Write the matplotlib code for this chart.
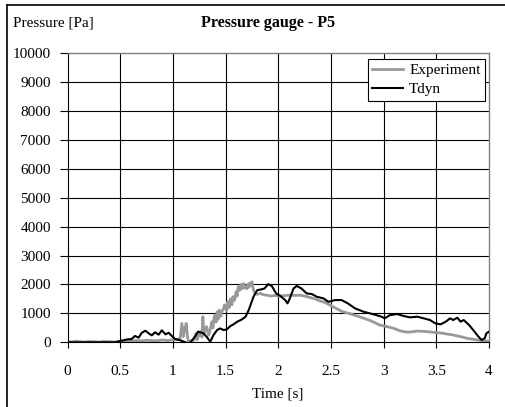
import numpy as np
import matplotlib
matplotlib.use('Agg')
import matplotlib.pyplot as plt
from matplotlib.lines import Line2D

plt.rcParams['font.family'] = 'Liberation Serif'

# -------------------------------- data ------------------------------------ #

# measured gauge signal (noisy, grey)
exp_t = [0.00, 0.04, 0.08, 0.12, 0.16, 0.20, 0.25, 0.30, 0.35, 0.40, 0.45,
         0.50, 0.55, 0.60, 0.65, 0.70, 0.75, 0.80, 0.85, 0.90, 0.95, 1.00,
         1.04, 1.07, 1.085, 1.10, 1.107, 1.115, 1.126, 1.14, 1.15, 1.18,
         1.20, 1.22, 1.23, 1.26, 1.275, 1.285, 1.295, 1.30, 1.32, 1.34,
         1.355, 1.37, 1.38, 1.39, 1.40, 1.41, 1.42, 1.43, 1.44, 1.455,
         1.465, 1.48, 1.49, 1.51, 1.52, 1.535, 1.545, 1.56, 1.57, 1.585,
         1.60, 1.61, 1.62, 1.635, 1.645, 1.655, 1.67, 1.68, 1.69, 1.70,
         1.71, 1.72, 1.73, 1.74, 1.75, 1.765, 1.78, 1.80, 1.83, 1.86, 1.89,
         1.93, 1.97, 2.00, 2.05, 2.11, 2.16, 2.20, 2.25, 2.30, 2.35, 2.39,
         2.44, 2.49, 2.55, 2.61, 2.67, 2.72, 2.77, 2.82, 2.86, 2.91, 2.96,
         3.01, 3.06, 3.10, 3.15, 3.22, 3.27, 3.32, 3.37, 3.41, 3.46, 3.50,
         3.55, 3.60, 3.65, 3.70, 3.75, 3.79, 3.84, 3.89, 3.94, 3.98, 4.00]
exp_p = [30, 10, 40, 20, 10, 30, 20, 10, 30, 20, 10,
         30, 50, 40, 60, 50, 70, 60, 50, 80, 60, 90,
         100, 150, 655, 200, 500, 370, 655, 150, 20, 60,
         80, 310, 90, 370, 180, 885, 250, 370, 540, 250,
         450, 710, 500, 820, 940, 700, 1050, 800, 1115, 900,
         1060, 1150, 1290, 1100, 1400, 1200, 1500, 1300, 1575, 1450,
         1750, 1600, 1920, 1800, 2000, 1850, 2030, 1880, 1940, 1850,
         2000, 1900, 2050, 1950, 2090, 1800, 1690, 1660, 1690, 1640, 1630,
         1600, 1620, 1600, 1610, 1630, 1620, 1630, 1600, 1550, 1500, 1437,
         1380, 1287, 1170, 1057, 1000, 940, 885, 820, 770, 690, 600,
         560, 517, 480, 400, 350, 360, 390, 380, 370, 350, 333,
         320, 287, 260, 218, 180, 138, 110, 80, 60, 46, 20]

# Tdyn simulation (black)
tdyn_t = [0.00, 0.20, 0.45, 0.50, 0.565, 0.61, 0.64, 0.675, 0.705, 0.74,
          0.77, 0.80, 0.83, 0.865, 0.895, 0.93, 0.96, 0.99, 1.02, 1.07,
          1.12, 1.15, 1.18, 1.21, 1.24, 1.29, 1.32, 1.355, 1.385, 1.42,
          1.45, 1.48, 1.51, 1.545, 1.575, 1.61, 1.655, 1.69, 1.72, 1.765,
          1.80, 1.84, 1.87, 1.905, 1.94, 1.98, 2.02, 2.066, 2.088, 2.11,
          2.145, 2.176, 2.22, 2.27, 2.32, 2.365, 2.43, 2.475, 2.54, 2.60,
          2.66, 2.73, 2.81, 2.87, 2.93, 2.98, 3.01, 3.06, 3.13, 3.19,
          3.25, 3.32, 3.38, 3.44, 3.49, 3.54, 3.59, 3.63, 3.66, 3.70,
          3.73, 3.76, 3.81, 3.85, 3.90, 3.93, 3.96, 3.975, 4.00]
tdyn_p = [0, 0, 0, 45, 100, 115, 220, 160, 330, 400,
          310, 240, 345, 265, 415, 275, 330, 220, 115, 70,
          0, -50, 60, 195, 370, 310, 195, 20, 250, 425,
          480, 425, 440, 560, 620, 710, 790, 885, 1115, 1575,
          1800, 1830, 1860, 2010, 1940, 1690, 1600, 1460, 1345, 1517,
          1860, 1950, 1860, 1690, 1667, 1575, 1517, 1400, 1460, 1460,
          1345, 1170, 1057, 1000, 940, 885, 830, 940, 977, 908,
          862, 885, 828, 770, 655, 620, 713, 828, 770, 850,
          713, 770, 600, 425, 195, 80, 140, 310, 370]

xticks = [0, 0.5, 1, 1.5, 2, 2.5, 3, 3.5, 4]
xtick_labels = ['0', '0.5', '1', '1.5', '2', '2.5', '3', '3.5', '4']
yticks = list(range(0, 10001, 1000))

# -------------------------------- figure ---------------------------------- #

W, H = 505, 407
fig = plt.figure(figsize=(W / 100, H / 100), dpi=100)
ax = fig.add_axes([67.5 / W, 1 - 342.3 / H, (489 - 67.5) / W, (342.3 - 53) / H])

# grid lines first, data over them
for yv in yticks[1:-1]:
    ax.axhline(yv, color='black', lw=0.8, zorder=1)
for xv in xticks[1:-1]:
    ax.axvline(xv, color='black', lw=0.8, zorder=1)

ax.plot(exp_t, exp_p, color='#999999', lw=2.0, label='Experiment', zorder=2)
ax.plot(tdyn_t, tdyn_p, color='black', lw=1.5, label='Tdyn', zorder=3)

ax.set_xlim(0, 4)
ax.set_ylim(0, 10000)
ax.set_xticks(xticks)
ax.set_xticklabels(xtick_labels)
ax.set_yticks(yticks)
ax.tick_params(axis='both', labelsize=11, color='black', width=0.8)
ax.tick_params(axis='y', length=6, pad=6)
ax.tick_params(axis='x', length=4, pad=12)

for side in ['top', 'right']:
    ax.spines[side].set_color('#808080')
    ax.spines[side].set_linewidth(1.0)
for side in ['left', 'bottom']:
    ax.spines[side].set_color('black')
    ax.spines[side].set_linewidth(0.8)

leg = ax.legend(loc='upper right', bbox_to_anchor=(0.9905, 0.979),
                borderaxespad=0, frameon=True, fancybox=False, fontsize=11,
                handlelength=2.0, handletextpad=0.4, labelspacing=0.35,
                borderpad=0.3)
leg.get_frame().set_edgecolor('black')
leg.get_frame().set_linewidth(0.8)
leg.get_frame().set_alpha(1)

fig.text(13 / W, 1 - 23 / H, 'Pressure [Pa]', ha='left', va='center', fontsize=11)
fig.text(268 / W, 1 - 23 / H, 'Pressure gauge - P5', ha='center', va='center',
         fontsize=11.5, fontweight='bold')
fig.text(277.5 / W, 1 - 394 / H, 'Time [s]', ha='center', va='center', fontsize=11)

# chart border (left and top edges)
fig.add_artist(Line2D([7 / W, 7 / W], [0, 1 - 5 / H], color='black', lw=1.2))
fig.add_artist(Line2D([7 / W, 1], [1 - 5 / H, 1 - 5 / H], color='black', lw=1.2))

fig.savefig('out.png', dpi=100)
